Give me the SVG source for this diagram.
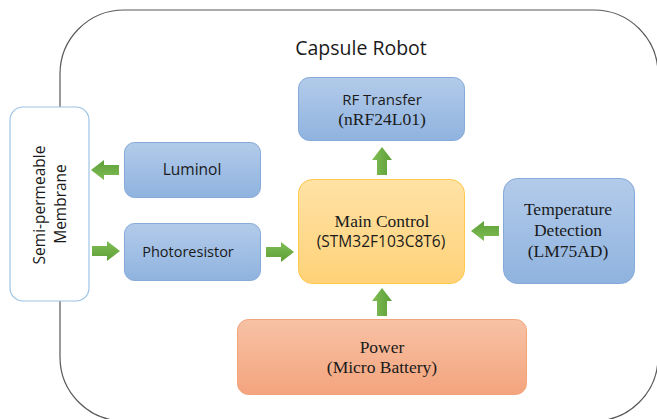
<svg xmlns="http://www.w3.org/2000/svg" width="657" height="419" viewBox="0 0 657 419">
  <defs>
    <linearGradient id="gBlue" x1="0" y1="0" x2="0" y2="1">
      <stop offset="0" stop-color="#B3CBEA"/>
      <stop offset="1" stop-color="#8FB3DF"/>
    </linearGradient>
    <linearGradient id="gGold" x1="0" y1="0" x2="0" y2="1">
      <stop offset="0" stop-color="#FFE2A6"/>
      <stop offset="1" stop-color="#FFD278"/>
    </linearGradient>
    <linearGradient id="gOrange" x1="0" y1="0" x2="0" y2="1">
      <stop offset="0" stop-color="#F7C2A5"/>
      <stop offset="1" stop-color="#F4A47D"/>
    </linearGradient>
    <linearGradient id="gGreen" x1="0" y1="0" x2="0" y2="1">
      <stop offset="0" stop-color="#80BD55"/>
      <stop offset="1" stop-color="#5E9F38"/>
    </linearGradient>
    <!-- block arrow pointing right, centred on the origin -->
    <path id="arrow" d="M-14,-5 H1 V-10 L14,0 L1,10 V5 H-14 Z" fill="url(#gGreen)"/>
  </defs>
  <style>
    .frame { fill: none; stroke: #595959; stroke-width: 1.2; }
    .blue { fill: url(#gBlue); stroke: #85A9D8; stroke-width: 1; }
    .gold { fill: url(#gGold); stroke: #FFC84A; stroke-width: 1; }
    .orange { fill: url(#gOrange); stroke: #F2A57A; stroke-width: 1; }
    .membrane { fill: #FFFFFF; stroke: #9DC3E6; stroke-width: 1.2; }
    .sans { font-family: "Open Sans", "Noto Sans", "Liberation Sans", sans-serif; fill: #1A1A1A; text-anchor: middle; }
    .serif { font-family: "Liberation Serif", "DejaVu Serif", serif; fill: #1A1A1A; text-anchor: middle; font-size: 17.5px; }
  </style>

  <rect width="657" height="419" fill="#FFFFFF"/>

  <!-- capsule outline -->
  <rect class="frame" x="60" y="10" width="598" height="411" rx="64" ry="64"/>
  <text class="sans" x="361" y="55" font-size="19.5">Capsule Robot</text>

  <g id="membrane">
    <rect class="membrane" x="10" y="107" width="79" height="194" rx="13" ry="13"/>
    <text class="sans" font-size="15.5" transform="translate(45,205) rotate(-90)">Semi-permeable</text>
    <text class="sans" font-size="15.5" transform="translate(66,204) rotate(-90)">Membrane</text>
  </g>

  <g id="rf-transfer">
    <rect class="blue" x="298.5" y="77.5" width="166" height="63" rx="11" ry="11"/>
    <text class="sans" x="382" y="105" font-size="15">RF Transfer</text>
    <text class="serif" x="382" y="125">(nRF24L01)</text>
  </g>

  <g id="luminol">
    <rect class="blue" x="124.5" y="142.5" width="136" height="55" rx="10" ry="10"/>
    <text class="sans" x="192" y="175" font-size="15.5">Luminol</text>
  </g>

  <g id="photoresistor">
    <rect class="blue" x="124.5" y="223.5" width="136" height="57" rx="10" ry="10"/>
    <text class="sans" x="188" y="257" font-size="14.5">Photoresistor</text>
  </g>

  <g id="main-control">
    <rect class="gold" x="298.5" y="179.5" width="166" height="104" rx="14" ry="14"/>
    <text class="serif" x="382" y="227">Main Control</text>
    <text class="sans" x="381" y="247" font-size="15.5">(STM32F103C8T6)</text>
  </g>

  <g id="temperature">
    <rect class="blue" x="503.5" y="178.5" width="131" height="105" rx="14" ry="14"/>
    <text class="serif" x="568" y="215">Temperature</text>
    <text class="serif" x="568" y="236">Detection</text>
    <text class="serif" x="568" y="257">(LM75AD)</text>
  </g>

  <g id="power">
    <rect class="orange" x="237.5" y="319.5" width="289" height="75" rx="11" ry="11"/>
    <text class="serif" x="382" y="353">Power</text>
    <text class="serif" x="382" y="373">(Micro Battery)</text>
  </g>

  <g id="connectors">
    <use href="#arrow" transform="translate(382,161) rotate(-90)"/>
    <use href="#arrow" transform="translate(382,302) rotate(-90)"/>
    <use href="#arrow" transform="translate(485,231) rotate(180)"/>
    <use href="#arrow" transform="translate(105,170) rotate(180)"/>
    <use href="#arrow" transform="translate(106,251)"/>
    <use href="#arrow" transform="translate(280,252)"/>
  </g>
</svg>
